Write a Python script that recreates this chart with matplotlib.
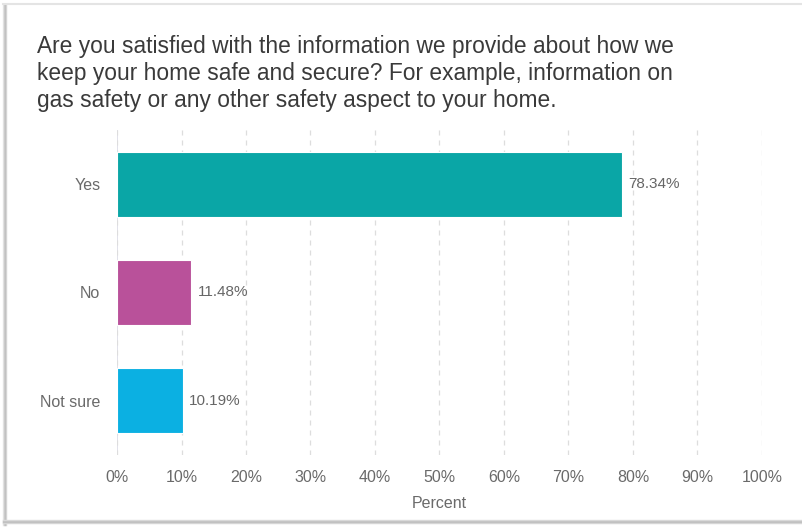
import matplotlib
matplotlib.use("Agg")
import matplotlib.pyplot as plt
from matplotlib.ticker import MultipleLocator, FuncFormatter

categories = ["Yes", "No", "Not sure"]
percentages = [78.34, 11.48, 10.19]
bar_colors = ["#0aa6a6", "#b9519a", "#0bb0e2"]
question = ("Are you satisfied with the information we provide about how we\n"
            "keep your home safe and secure? For example, information on\n"
            "gas safety or any other safety aspect to your home.")

plt.rcParams["font.family"] = ["Liberation Sans", "DejaVu Sans"]
W, H = 803, 532
fig = plt.figure(figsize=(W / 100, H / 100), dpi=100)
fig.patch.set_facecolor("white")

# panel frame with soft shadow on left and bottom
for i, c in enumerate(["#e6e6e6", "#cfcfcf", "#bdbdbd", "#d4d4d4"]):
    fig.add_artist(plt.Line2D([(3 + i) / W, (3 + i) / W], [1 - 4 / H, 1 - 525 / H],
                              color=c, lw=1, transform=fig.transFigure))
for i, c in enumerate(["#dedede", "#c8c8c8", "#bcbcbc", "#d6d6d6"]):
    fig.add_artist(plt.Line2D([3 / W, 1], [1 - (520 + i) / H, 1 - (520 + i) / H],
                              color=c, lw=1, transform=fig.transFigure))
fig.add_artist(plt.Line2D([3 / W, 1], [1 - 4 / H, 1 - 4 / H],
                          color="#e4e4e4", lw=1.5, transform=fig.transFigure))

ax = fig.add_axes([117 / W, 1 - 455 / H, (762 - 117) / W, (455 - 130) / H])
y = list(range(len(categories)))
bars = ax.barh(y, percentages, height=0.6, color=bar_colors,
               edgecolor="white", linewidth=0.8, zorder=3)
for b, v in zip(bars, percentages):
    ax.text(b.get_width() + 1.0, b.get_y() + b.get_height() / 2, f"{v:.2f}%",
            va="center", ha="left", fontsize=11, color="#666666", zorder=4)

ax.set_xlim(0, 100)
ax.set_ylim(len(categories) - 0.5, -0.5)
ax.set_yticks(y)
ax.set_yticklabels(categories)
ax.xaxis.set_major_locator(MultipleLocator(10))
ax.xaxis.set_major_formatter(FuncFormatter(lambda v, p: f"{v:.0f}%"))
ax.tick_params(axis="both", length=0, labelsize=11.5, colors="#6a6a6a")
ax.tick_params(axis="x", pad=11)
ax.tick_params(axis="y", pad=12)
ax.grid(axis="x", color="#dddddd", linestyle=(0, (4, 4)), linewidth=0.9, zorder=0)
ax.axvline(0, color="#dcdce6", lw=1.2, zorder=1)
for s in ax.spines.values():
    s.set_visible(False)
ax.set_xlabel("Percent", fontsize=11.5, color="#6a6a6a", labelpad=8)

fig.text(37 / W, 1 - 35 / H, question, fontsize=16.4, color="#3a3a3a",
         ha="left", va="top", linespacing=1.22)

fig.savefig("out.png", dpi=100, facecolor="white")
